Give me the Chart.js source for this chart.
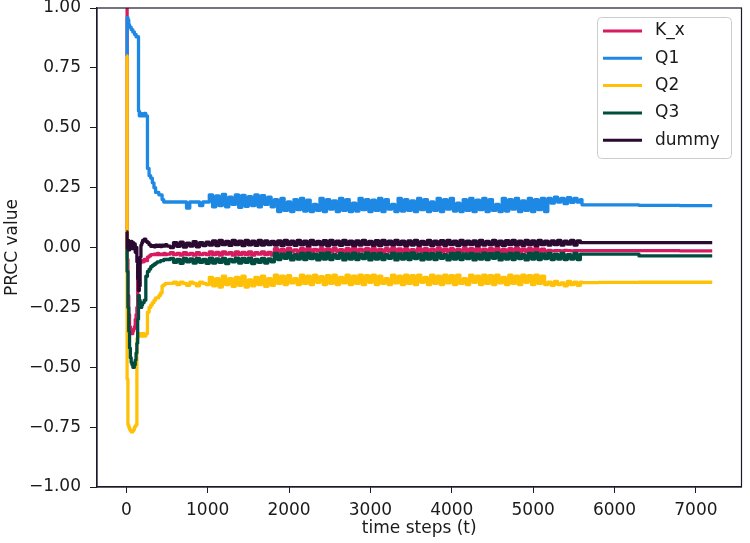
<!DOCTYPE html>
<html>
<head>
<meta charset="utf-8">
<script src="https://cdn.jsdelivr.net/npm/chart.js@4.4.1/dist/chart.umd.min.js"></script>
<style>
  html, body { margin: 0; padding: 0; background: #fff; }
  #wrap { width: 750px; height: 543px; }
</style>
</head>
<body>
<div id="wrap"><canvas id="prccChart" width="750" height="543"></canvas></div>
<script>
// time steps (dense at the start, where the curves move fast)
const steps = [
  0, 10, 20, 30, 40, 50, 60, 70, 80, 90, 100, 110, 120, 130, 140, 150, 160, 170, 180, 190, 200,
  220, 240, 260, 280, 300, 320, 340, 360, 380, 400, 420, 440, 460, 480, 500,
  540, 580, 620, 660, 700, 740, 780, 820, 860, 900, 940, 980,
  1020, 1060, 1100, 1140, 1180, 1220, 1260, 1300, 1340, 1380, 1420, 1460, 1500, 1540, 1580, 1620, 1660, 1700, 1740, 1780,
  1820, 1860, 1900, 1940, 1980, 2020, 2060, 2100, 2140, 2180, 2220, 2260, 2300, 2340, 2380, 2420, 2460, 2500, 2540, 2580,
  2620, 2660, 2700, 2740, 2780, 2820, 2860, 2900, 2940, 2980, 3020, 3060, 3100, 3140, 3180, 3220, 3260, 3300, 3340, 3380,
  3420, 3460, 3500, 3540, 3580, 3620, 3660, 3700, 3740, 3780, 3820, 3860, 3900, 3940, 3980, 4020, 4060, 4100, 4140, 4180,
  4220, 4260, 4300, 4340, 4380, 4420, 4460, 4500, 4540, 4580, 4620, 4660, 4700, 4740, 4780, 4820, 4860, 4900, 4940, 4980,
  5020, 5060, 5100, 5140,
  5180, 5220, 5260, 5300, 5340, 5380, 5420, 5460, 5500, 5540, 5580,
  5600, 5800, 6300, 6800, 7200
];

const kX = [
  1.0, -0.05, -0.20, -0.28, -0.33, -0.36, -0.36, -0.36, -0.35, -0.34, -0.33, -0.30, -0.28, -0.25, -0.08, -0.07, -0.06, -0.065, -0.06, -0.055, -0.06,
  -0.05, -0.055, -0.04, -0.035, -0.03, -0.03, -0.028, -0.03, -0.025, -0.03, -0.028, -0.03, -0.025, -0.03, -0.028,
  -0.022, -0.03, -0.025, -0.032, -0.022, -0.03, -0.025, -0.032, -0.022, -0.03, -0.025, -0.03,
  -0.018, -0.03, -0.02, -0.032, -0.018, -0.028, -0.022, -0.032, -0.018, -0.03, -0.02, -0.03, -0.018, -0.032, -0.022, -0.028, -0.018, -0.03, -0.02, -0.032,
  -0.005, -0.018, -0.008, -0.02, -0.004, -0.016, -0.01, -0.02, -0.005, -0.017,
  -0.003, -0.019, -0.008, -0.015, -0.005, -0.02, -0.006, -0.018, -0.004, -0.016,
  -0.009, -0.02, -0.005, -0.017, -0.003, -0.019, -0.007, -0.015, -0.005, -0.02,
  -0.004, -0.018, -0.008, -0.02, -0.005, -0.016, -0.003, -0.019, -0.006, -0.017,
  -0.005, -0.02, -0.009, -0.016, -0.004, -0.018, -0.005, -0.02, -0.007, -0.015,
  -0.003, -0.019, -0.006, -0.017, -0.005, -0.02, -0.008, -0.016, -0.004, -0.018,
  -0.005, -0.02, -0.003, -0.017, -0.007, -0.019, -0.005, -0.016, -0.004, -0.02,
  -0.008, -0.018, -0.005, -0.017, -0.003, -0.02, -0.006, -0.016, -0.005, -0.019,
  -0.004, -0.018, -0.007, -0.016,
  -0.012, -0.014, -0.013, -0.013, -0.014, -0.012, -0.013, -0.014, -0.013, -0.013, -0.013,
  -0.013, -0.013, -0.013, -0.014, -0.014
];

const q1 = [
  0.80, 0.96, 0.95, 0.93, 0.92, 0.92, 0.91, 0.91, 0.90, 0.90, 0.89, 0.89, 0.88, 0.88, 0.88, 0.57, 0.55, 0.55, 0.56, 0.55, 0.55,
  0.56, 0.55, 0.33, 0.30, 0.29, 0.27, 0.25, 0.23, 0.23, 0.22, 0.22, 0.20, 0.19, 0.19, 0.19,
  0.19, 0.19, 0.19, 0.19, 0.19, 0.165, 0.19, 0.19, 0.19, 0.175, 0.19, 0.19,
  0.22, 0.17, 0.215, 0.175, 0.222, 0.17, 0.21, 0.18, 0.22, 0.168, 0.218, 0.172, 0.212, 0.175, 0.22, 0.17, 0.216, 0.18, 0.21, 0.17,
  0.2, 0.15, 0.205, 0.155, 0.19, 0.15, 0.2, 0.158, 0.205, 0.152,
  0.198, 0.15, 0.18, 0.155, 0.205, 0.15, 0.2, 0.16, 0.195, 0.15,
  0.205, 0.155, 0.2, 0.15, 0.185, 0.152, 0.205, 0.158, 0.2, 0.15,
  0.198, 0.155, 0.205, 0.15, 0.2, 0.16, 0.18, 0.15, 0.205, 0.152,
  0.2, 0.155, 0.195, 0.15, 0.205, 0.158, 0.2, 0.15, 0.19, 0.155,
  0.205, 0.15, 0.2, 0.16, 0.205, 0.152, 0.185, 0.15, 0.2, 0.155,
  0.205, 0.15, 0.198, 0.158, 0.205, 0.15, 0.2, 0.155, 0.18, 0.15,
  0.205, 0.152, 0.2, 0.16, 0.205, 0.15, 0.195, 0.155, 0.205, 0.15,
  0.2, 0.158, 0.205, 0.15,
  0.205, 0.185, 0.21, 0.19, 0.205, 0.183, 0.208, 0.188, 0.205, 0.19, 0.2,
  0.178, 0.178, 0.176, 0.175, 0.175
];

const q2 = [
  0.80, -0.55, -0.74, -0.75, -0.76, -0.765, -0.77, -0.77, -0.765, -0.76, -0.75, -0.745, -0.74, -0.38, -0.37, -0.36, -0.37, -0.36, -0.36, -0.37, -0.36,
  -0.37, -0.36, -0.27, -0.25, -0.24, -0.23, -0.22, -0.21, -0.21, -0.2, -0.19, -0.16, -0.155, -0.15, -0.15,
  -0.15, -0.145, -0.155, -0.145, -0.15, -0.158, -0.145, -0.15, -0.16, -0.145, -0.15, -0.155,
  -0.125, -0.16, -0.13, -0.165, -0.12, -0.155, -0.13, -0.162, -0.125, -0.158, -0.12, -0.165, -0.135, -0.16, -0.125, -0.155, -0.12, -0.162, -0.13, -0.158,
  -0.115, -0.15, -0.12, -0.155, -0.118, -0.148, -0.13, -0.155, -0.115, -0.15,
  -0.12, -0.155, -0.115, -0.145, -0.122, -0.155, -0.118, -0.15, -0.115, -0.155,
  -0.125, -0.148, -0.115, -0.155, -0.12, -0.15, -0.115, -0.155, -0.118, -0.145,
  -0.115, -0.155, -0.12, -0.15, -0.13, -0.155, -0.115, -0.148, -0.12, -0.155,
  -0.115, -0.15, -0.118, -0.155, -0.115, -0.145, -0.125, -0.155, -0.115, -0.15,
  -0.12, -0.155, -0.115, -0.148, -0.118, -0.155, -0.115, -0.15, -0.13, -0.155,
  -0.115, -0.145, -0.12, -0.155, -0.115, -0.15, -0.118, -0.155, -0.115, -0.148,
  -0.125, -0.155, -0.115, -0.15, -0.12, -0.155, -0.115, -0.145, -0.118, -0.155,
  -0.115, -0.15, -0.12, -0.155,
  -0.145, -0.158, -0.142, -0.155, -0.148, -0.16, -0.142, -0.155, -0.145, -0.158, -0.145,
  -0.147, -0.146, -0.145, -0.145, -0.145
];

const q3 = [
  0.0, -0.10, -0.25, -0.35, -0.42, -0.46, -0.48, -0.49, -0.50, -0.50, -0.49, -0.47, -0.44, -0.40, -0.30, -0.20, -0.22, -0.24, -0.25, -0.24, -0.23,
  -0.22, -0.12, -0.10, -0.09, -0.08, -0.075, -0.07, -0.065, -0.06, -0.06, -0.055, -0.055, -0.05, -0.05, -0.05,
  -0.045, -0.062, -0.05, -0.066, -0.045, -0.06, -0.048, -0.065, -0.045, -0.062, -0.05, -0.066,
  -0.044, -0.065, -0.048, -0.062, -0.045, -0.067, -0.05, -0.06, -0.044, -0.065, -0.046, -0.062, -0.044, -0.067, -0.05, -0.062, -0.045, -0.065, -0.048, -0.06,
  -0.025, -0.05, -0.028, -0.045, -0.023, -0.052, -0.03, -0.048, -0.025, -0.05,
  -0.024, -0.046, -0.028, -0.052, -0.025, -0.048, -0.023, -0.05, -0.03, -0.045,
  -0.025, -0.052, -0.027, -0.048, -0.024, -0.05, -0.028, -0.046, -0.023, -0.052,
  -0.026, -0.048, -0.025, -0.05, -0.03, -0.045, -0.024, -0.052, -0.027, -0.048,
  -0.025, -0.05, -0.023, -0.046, -0.028, -0.052, -0.025, -0.048, -0.026, -0.05,
  -0.024, -0.045, -0.03, -0.052, -0.025, -0.048, -0.023, -0.05, -0.027, -0.046,
  -0.025, -0.052, -0.028, -0.048, -0.024, -0.05, -0.026, -0.045, -0.023, -0.052,
  -0.028, -0.048, -0.025, -0.05, -0.024, -0.046, -0.03, -0.052, -0.025, -0.048,
  -0.023, -0.05, -0.027, -0.046,
  -0.025, -0.05, -0.028, -0.048, -0.025, -0.05, -0.03, -0.048, -0.025, -0.05, -0.028,
  -0.028, -0.028, -0.035, -0.035, -0.035
];

const dummy = [
  0.065, 0.0, 0.03, -0.01, 0.02, 0.0, 0.025, -0.005, 0.02, 0.0, 0.015, -0.02, 0.0, -0.06, -0.13, -0.18, -0.16, -0.04, 0.01, 0.02, 0.03,
  0.035, 0.025, 0.02, 0.012, 0.005, 0.008, 0.003, 0.01, 0.005, 0.01, 0.004, 0.01, 0.006, 0.012, 0.006,
  0.0, 0.02, 0.005, 0.022, 0.002, 0.018, 0.006, 0.024, 0.003, 0.02, 0.008, 0.022,
  0.01, 0.028, 0.008, 0.03, 0.012, 0.025, 0.009, 0.03, 0.012, 0.027, 0.008, 0.03, 0.011, 0.026, 0.009, 0.03, 0.01, 0.028, 0.012, 0.025,
  0.01, 0.028, 0.008, 0.03, 0.012, 0.026, 0.009, 0.03, 0.011, 0.027,
  0.008, 0.03, 0.012, 0.025, 0.01, 0.029, 0.008, 0.03, 0.011, 0.026,
  0.009, 0.03, 0.012, 0.027, 0.008, 0.028, 0.01, 0.03, 0.012, 0.025,
  0.009, 0.029, 0.008, 0.03, 0.011, 0.027, 0.01, 0.03, 0.012, 0.026,
  0.008, 0.028, 0.01, 0.03, 0.009, 0.025, 0.012, 0.03, 0.008, 0.027,
  0.011, 0.029, 0.009, 0.03, 0.012, 0.026, 0.008, 0.03, 0.01, 0.027,
  0.012, 0.028, 0.008, 0.03, 0.01, 0.025, 0.011, 0.03, 0.009, 0.027,
  0.008, 0.029, 0.012, 0.03, 0.01, 0.026, 0.009, 0.03, 0.011, 0.028,
  0.008, 0.03, 0.012, 0.027,
  0.01, 0.028, 0.012, 0.03, 0.01, 0.026, 0.014, 0.03, 0.01, 0.028, 0.02,
  0.02, 0.02, 0.02, 0.02, 0.02
];

const seriesNames = ['K_x', 'Q1', 'Q2', 'Q3', 'dummy'];
const seriesValues = [kX, q1, q2, q3, dummy];
const seriesColors = ['#D81B60', '#1E88E5', '#FFC107', '#004D40', '#2a0a30'];

const xTicks = [0, 1000, 2000, 3000, 4000, 5000, 6000, 7000];
const yTicks = [-1, -0.75, -0.5, -0.25, 0, 0.25, 0.5, 0.75, 1];

const fontFamily = '"DejaVu Sans", sans-serif';
const textColor = '#1a1a1a';

// matplotlib style frame (top + right spines)
const frame = {
    id: 'frame',
    afterDraw(chart) {
        const { ctx, chartArea: a } = chart;
        ctx.save();
        ctx.strokeStyle = '#1a1a2a';
        ctx.lineWidth = 1.2;
        ctx.strokeRect(a.left, a.top, a.right - a.left, a.bottom - a.top);
        ctx.restore();
    }
};

// boxed legend in the upper right corner
const boxLegend = {
    id: 'boxLegend',
    afterDraw(chart) {
        const ctx = chart.ctx;
        ctx.save();
        ctx.beginPath();
        ctx.roundRect(597.5, 17.5, 134, 141, 4);
        ctx.fillStyle = 'rgba(255,255,255,0.8)';
        ctx.fill();
        ctx.strokeStyle = '#cccccc';
        ctx.lineWidth = 1;
        ctx.stroke();
        ctx.font = '17px ' + fontFamily;
        ctx.textBaseline = 'middle';
        chart.data.datasets.forEach((ds, i) => {
            const y = 31 + i * 27.3;
            ctx.strokeStyle = ds.borderColor;
            ctx.lineWidth = 3;
            ctx.beginPath();
            ctx.moveTo(603, y);
            ctx.lineTo(642, y);
            ctx.stroke();
            ctx.fillStyle = textColor;
            ctx.fillText(ds.label, 655, y);
        });
        ctx.restore();
    }
};

const datasets = seriesNames.map((name, i) => ({
    label: name,
    data: steps.map((t, j) => ({ x: t, y: seriesValues[i][j] })),
    borderColor: seriesColors[i],
    backgroundColor: seriesColors[i],
    borderWidth: 3.3,
    borderJoinStyle: 'round',
    pointRadius: 0,
    stepped: true,
    order: seriesNames.length - i   // dummy drawn on top, like matplotlib
}));

new Chart(document.getElementById('prccChart'), {
    type: 'line',
    data: { datasets },
    options: {
        responsive: false,
        animation: false,
        layout: { padding: { top: 8, right: 8.5, left: 0, bottom: 0 } },
        plugins: {
            legend: { display: false },
            tooltip: { enabled: false }
        },
        scales: {
            x: {
                type: 'linear',
                min: -360,
                max: 7560,
                afterBuildTicks: s => { s.ticks = xTicks.map(v => ({ value: v })); },
                afterFit: s => { s.height = 56; s.paddingLeft = 0; s.paddingRight = 0; },
                ticks: {
                    callback: v => String(v),
                    color: textColor,
                    font: { family: fontFamily, size: 17 },
                    padding: 7,
                    maxRotation: 0
                },
                grid: { drawOnChartArea: false, drawTicks: true, tickLength: 6, color: '#1a1a2a' },
                border: { display: true, color: '#1a1a2a', width: 1.2 },
                title: {
                    display: true,
                    text: 'time steps (t)',
                    color: textColor,
                    font: { family: fontFamily, size: 17 },
                    padding: { top: 0, bottom: 4 }
                }
            },
            y: {
                min: -1,
                max: 1,
                afterBuildTicks: s => { s.ticks = yTicks.map(v => ({ value: v })); },
                afterFit: s => { s.width = 97; s.paddingTop = 0; s.paddingBottom = 0; },
                ticks: {
                    callback: v => v.toFixed(2).replace('-', '\u2212'),
                    color: textColor,
                    font: { family: fontFamily, size: 17 },
                    padding: 9
                },
                grid: { drawOnChartArea: false, drawTicks: true, tickLength: 7, color: '#1a1a2a' },
                border: { display: true, color: '#1a1a2a', width: 1.2 },
                title: {
                    display: true,
                    text: 'PRCC value',
                    color: textColor,
                    font: { family: fontFamily, size: 17 },
                    padding: { top: 2, bottom: 0 }
                }
            }
        }
    },
    plugins: [frame, boxLegend]
});
</script>
</body>
</html>
